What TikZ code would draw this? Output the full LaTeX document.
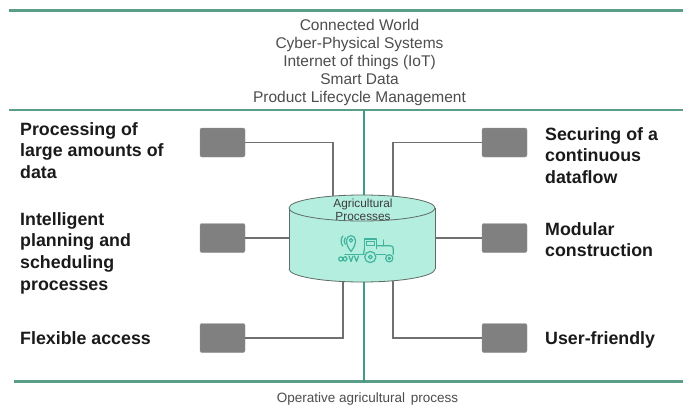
\documentclass[tikz,border=0pt]{standalone}
\usepackage{fontspec}
\setmainfont{Liberation Sans}
\definecolor{lineg}{HTML}{5A9E89}
\definecolor{vlineg}{HTML}{3F9A86}
\definecolor{cylfill}{HTML}{B4EEDE}
\definecolor{cyldraw}{HTML}{5E6B66}
\definecolor{icong}{HTML}{3FB39C}
\definecolor{boxg}{HTML}{808080}
\definecolor{conng}{HTML}{707070}
\definecolor{txtdark}{HTML}{1A1A1A}
\definecolor{txtgray}{HTML}{4D4D4D}
\tikzset{
  gline/.style={draw=lineg, line width=2.5pt},
  vline/.style={draw=vlineg, line width=1.8pt},
  gbox/.style={fill=boxg, draw=boxg!85, rounded corners=2pt, minimum width=45pt, minimum height=29pt, inner sep=0},
  conn/.style={draw=conng, line width=1.1pt},
  ltxt/.style={font=\fontsize{17.8}{21.7}\selectfont\bfseries, align=left, anchor=north west, inner sep=0, text=txtdark},
  ttxt/.style={font=\fontsize{15.5}{18.1}\selectfont, align=center, anchor=north, inner sep=0, text=txtgray},
  icon/.style={draw=icong, line width=1.2pt, line cap=round, line join=round}
}
\begin{document}
\begin{tikzpicture}[x=1pt,y=-1pt]
\useasboundingbox (0,0) rectangle (683,407);
\fill[white] (0,0) rectangle (683,407);

% green horizontal lines
\coordinate (h1a) at (9,10.5);  \coordinate (h1b) at (683,10.5);
\coordinate (h2a) at (9,110);   \coordinate (h2b) at (683,110);
\coordinate (h3a) at (14,381.5); \coordinate (h3b) at (683,381.5);
\draw[gline] (h1a) -- (h1b);
\draw[gline] (h2a) -- (h2b);
\draw[gline] (h3a) -- (h3b);

% vertical green line
\coordinate (v1) at (364,110);
\coordinate (v2) at (364,195);
\coordinate (v3) at (364,282);
\coordinate (v4) at (364,381.5);
\draw[vline] (v1) -- (v2);
\draw[vline] (v3) -- (v4);

% top texts
\node[ttxt] (toptxt) at (359.5,17.33) {\strut Connected World\\Cyber-Physical Systems\\Internet of things (IoT)\\Smart Data\\Product Lifecycle Management};

% bottom text
\node[font=\fontsize{13.5}{16}\selectfont, text=txtgray, anchor=base, inner sep=0] (bottxt) at (367.5,402.7) {Operative agricultural\hspace{2pt} process};

% cylinder
\fill[cylfill] (289,208) rectangle (435,269);
\fill[cylfill] (362,269) ellipse [x radius=73pt, y radius=13pt];
\begin{scope}
  \clip (280,269) rectangle (445,290);
  \draw[cyldraw, line width=0.8pt] (362,269) ellipse [x radius=73pt, y radius=13pt];
\end{scope}
\draw[cyldraw, line width=0.8pt] (289,208) -- (289,269);
\draw[cyldraw, line width=0.8pt] (435,208) -- (435,269);
\filldraw[fill=cylfill, draw=cyldraw, line width=0.8pt] (362,208) ellipse [x radius=73pt, y radius=13pt];

\node[font=\fontsize{11.8}{13.7}\selectfont, align=center, anchor=north, inner sep=0, text=txtdark!85] (cyllab) at (363,197.4) {\strut Agricultural\\Processes};

% icon: pin with signal
\draw[icon] (351,251.5) .. controls (348,247.5) and (346.5,244.5) .. (346.5,240.5)
  .. controls (346.5,237.5) and (348.5,235.7) .. (351,235.7)
  .. controls (353.5,235.7) and (355.5,237.5) .. (355.5,240.5)
  .. controls (355.5,244.5) and (354,247.5) .. (351,251.5) -- cycle;
\draw[icon] (351,240.3) circle [radius=1.8pt];
\draw[icon] (342.8,236) .. controls (340.6,239) and (340.6,243) .. (342.8,246);
\draw[icon] (345.2,237.8) .. controls (343.8,239.8) and (343.8,242.2) .. (345.2,244.2);
% seeder
\draw[icon] (345,254.3) -- (364,254.3);
\draw[icon] (340.8,259) circle [radius=2.1pt];
\draw[icon] (343,259) .. controls (344,256) and (346.5,256) .. (347,259) .. controls (347.3,261.5) and (344,262) .. (343,259);
\draw[icon] (349,256) -- (351,261.5) -- (353,256);
\draw[icon] (354.5,256) -- (356.5,261.5) -- (358.5,256);
% tractor cab
\draw[icon] (364.5,248.5) -- (364.5,239) -- (376.5,239) -- (376.5,248.5);
\draw[icon] (366.8,241.2) rectangle (374.3,245.8);
% exhaust
\draw[icon] (383.3,240) -- (383.3,245.7);
% hood/body
\draw[icon] (376.5,245.7) -- (390.5,245.7) .. controls (392.5,245.7) and (393.3,247) .. (393.3,249) -- (393.3,254.3);
\draw[icon] (363.5,254.3) -- (364.5,248.5);
\draw[icon] (376.5,254.3) -- (385.5,254.3);
% wheels
\draw[icon] (370.3,257) circle [radius=5.6pt];
\draw[icon] (370.3,257) circle [radius=1.9pt];
\draw[icon] (389.3,258.3) circle [radius=3.6pt];
\draw[icon] (389.3,258.3) circle [radius=1.1pt];

% gray boxes
\node[gbox] (bl1) at (222.5,142.5) {};
\node[gbox] (bl2) at (222.5,238) {};
\node[gbox] (bl3) at (222.5,338) {};
\node[gbox] (br1) at (504.5,142.5) {};
\node[gbox] (br2) at (504.5,238) {};
\node[gbox] (br3) at (504.5,338) {};

% cylinder attachment points
\coordinate (cTL) at (333,196.1);
\coordinate (cTR) at (393,196.2);
\coordinate (cML) at (289,238);
\coordinate (cMR) at (435,238);
\coordinate (cBL) at (343,281.5);
\coordinate (cBR) at (393,280.8);

% connectors
\draw[conn] (bl1.east) -| (cTL);
\draw[conn] (br1.west) -| (cTR);
\draw[conn] (bl2.east) -- (cML);
\draw[conn] (br2.west) -- (cMR);
\draw[conn] (bl3.east) -| (cBL);
\draw[conn] (br3.west) -| (cBR);

% side texts
\node[ltxt] (tl1) at (20,119.81) {\strut Processing of\\large amounts of\\data};
\node[ltxt] (tl2) at (20,209.81) {\strut Intelligent\\planning and\\scheduling\\processes};
\node[ltxt] (tl3) at (20,328.81) {\strut Flexible access};
\node[ltxt] (tr1) at (545,124.81) {\strut Securing of a\\continuous\\dataflow};
\node[ltxt] (tr2) at (545,219.81) {\strut Modular\\construction};
\node[ltxt] (tr3) at (545,328.81) {\strut User-friendly};
\end{tikzpicture}
\end{document}
